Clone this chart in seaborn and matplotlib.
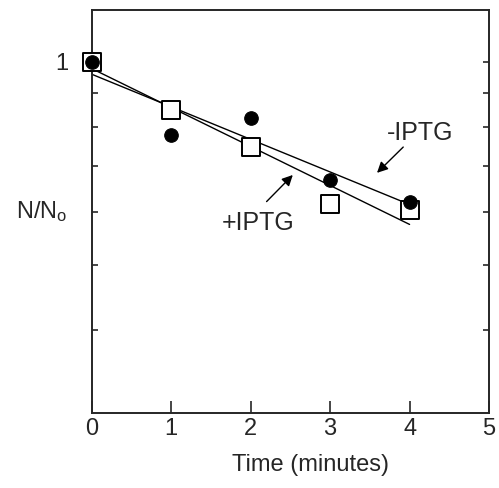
import numpy as np
import pandas as pd
import matplotlib
matplotlib.use("Agg")
import matplotlib.pyplot as plt
import seaborn as sns
from matplotlib.ticker import FixedLocator, NullLocator

# values
time_min = [0, 1, 2, 3, 4]
minus_iptg = [1.0, 0.78, 0.826, 0.668, 0.62]    # filled circles
plus_iptg = [1.0, 0.849, 0.748, 0.616, 0.604]   # open squares
y_ticks = [0.4, 0.5, 0.6, 0.7, 0.8, 0.9, 1.0]
y_tick_labels = ["", "", "", "", "", "", "1"]
x_ticks = [0, 1, 2, 3, 4, 5]

sns.set_style("ticks")
plt.rcParams["font.family"] = ["Liberation Sans", "DejaVu Sans"]
plt.rcParams["mathtext.default"] = "regular"

df = pd.DataFrame({"t": time_min, "minus": minus_iptg, "plus": plus_iptg})

# log-linear fits through each series
def fit_line(y):
    k, b = np.polyfit(df["t"], np.log10(y), 1)
    return pd.DataFrame({"t": [0, 4], "y": 10 ** (b + k * np.array([0, 4]))})

fit_minus = fit_line(df["minus"])
fit_plus = fit_line(df["plus"])

fig = plt.figure(figsize=(4.99, 4.88), dpi=100)
ax = fig.add_axes([0.184, 0.154, 0.796, 0.8255])

sns.lineplot(data=fit_minus, x="t", y="y", color="black", lw=1.0, ax=ax)
sns.lineplot(data=fit_plus, x="t", y="y", color="black", lw=1.0, ax=ax)
sns.scatterplot(data=df, x="t", y="plus", marker="s", s=160, facecolor="white",
                edgecolor="black", linewidth=1.4, ax=ax, clip_on=False, zorder=3)
sns.scatterplot(data=df, x="t", y="minus", marker="o", s=95, color="black",
                edgecolor="black", ax=ax, clip_on=False, zorder=4)

ax.set_yscale("log")
ax.set_xlim(0, 5)
ax.set_ylim(0.302, 1.194)
ax.yaxis.set_major_locator(FixedLocator(y_ticks))
ax.yaxis.set_minor_locator(NullLocator())
ax.set_yticklabels(y_tick_labels)
ax.set_xticks(x_ticks)
ax.set_xticklabels([str(v) for v in x_ticks])
ax.tick_params(axis="x", direction="in", length=9, width=1.2, labelsize=17, pad=4)
ax.tick_params(axis="y", direction="in", length=4, width=1.2, labelsize=17,
               right=True, pad=17)
for sp in ax.spines.values():
    sp.set_visible(True)
    sp.set_linewidth(1.4)
ax.set_xlabel("")
ax.set_ylabel("")

fig.text(42 / 499, 1 - 212 / 488, "N/N$_o$", fontsize=17, ha="center", va="center")
fig.text(310 / 499, 1 - 465 / 488, "Time (minutes)", fontsize=17, ha="center", va="center")

arrow = dict(arrowstyle="-|>", color="black", lw=1.0, mutation_scale=16,
             shrinkA=0, shrinkB=0)
ax.annotate("", xy=(3.59, 0.685), xytext=(3.92, 0.748), arrowprops=arrow)
ax.text(4.13, 0.785, "-IPTG", fontsize=18, ha="center", va="center")
ax.annotate("", xy=(2.53, 0.68), xytext=(2.20, 0.621), arrowprops=arrow)
ax.text(2.09, 0.577, "+IPTG", fontsize=18, ha="center", va="center")

fig.savefig("out.png", dpi=100)
